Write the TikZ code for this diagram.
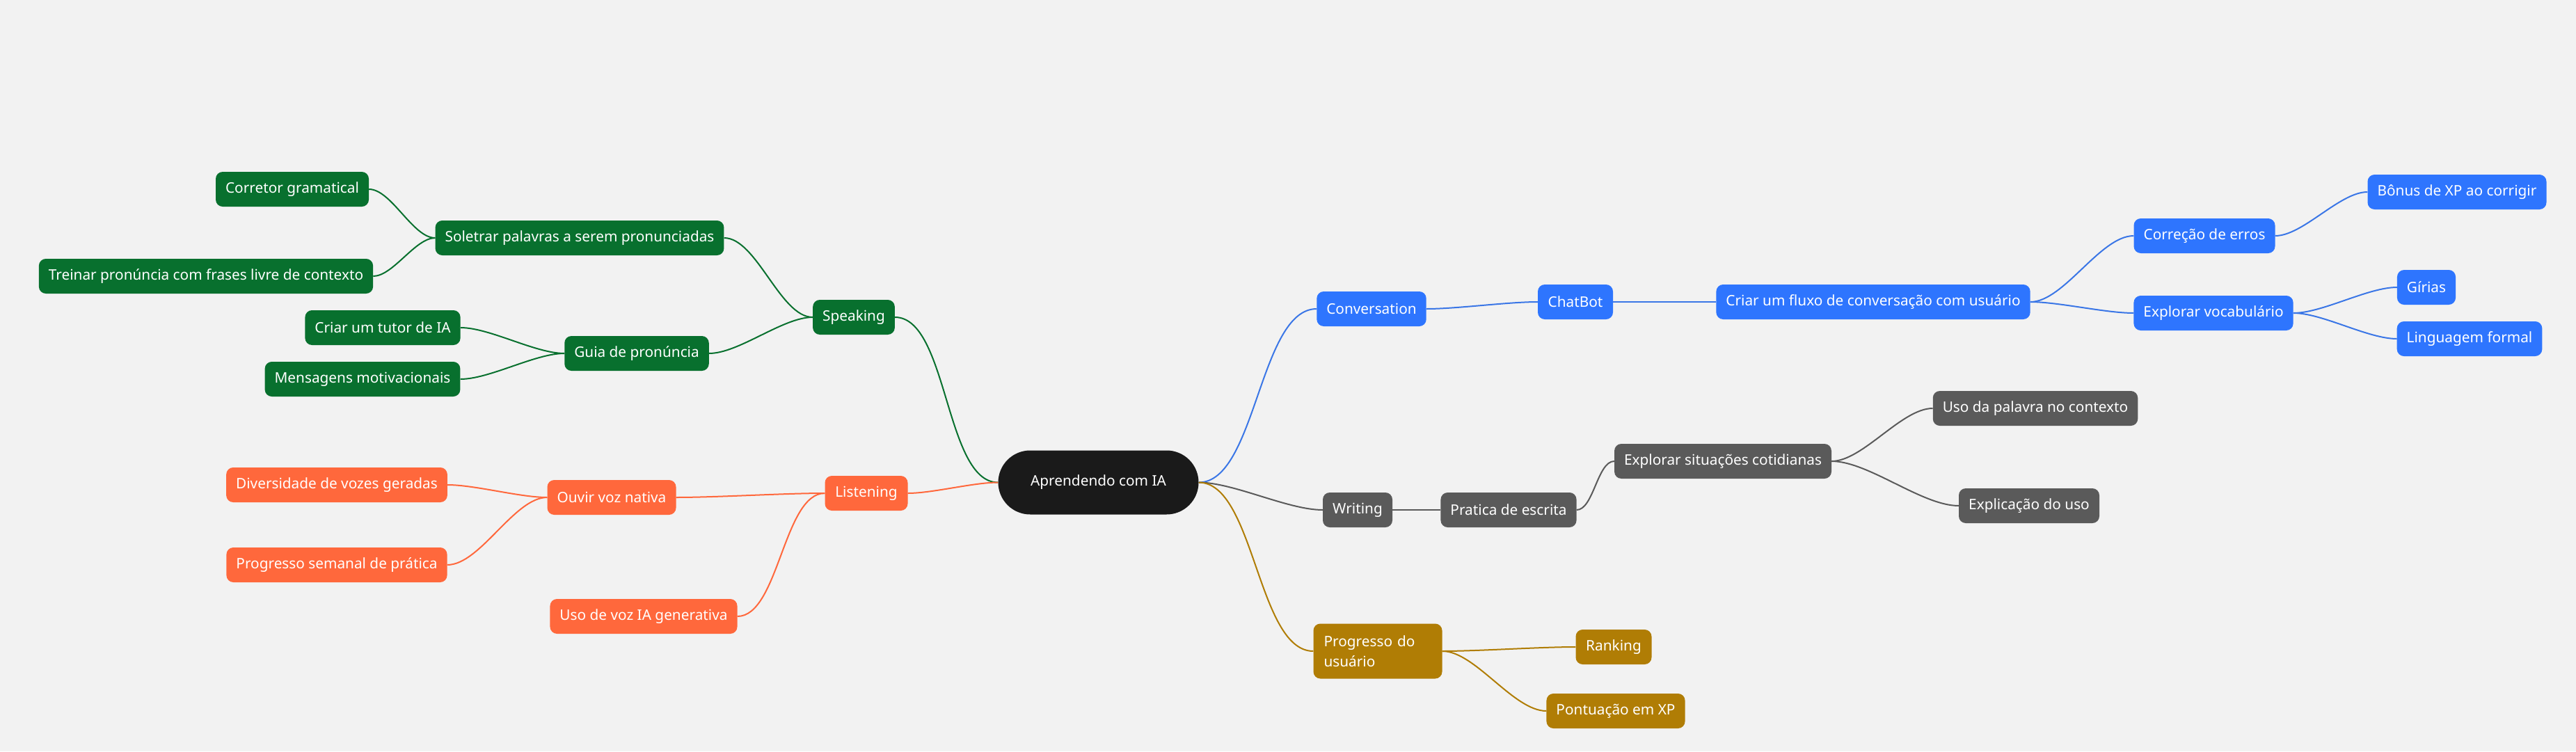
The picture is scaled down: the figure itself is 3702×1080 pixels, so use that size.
\documentclass[tikz,border=0pt]{standalone}
\usepackage{fontspec}
\setmainfont{Noto Sans}
\definecolor{bg}{HTML}{F2F2F2}
\definecolor{rootc}{HTML}{1A1A1A}
\definecolor{bluec}{HTML}{2E75FE}
\definecolor{bluel}{HTML}{3A76E6}
\definecolor{greenc}{HTML}{08702E}
\definecolor{orangec}{HTML}{FF683C}
\definecolor{greyc}{HTML}{5A5A5A}
\definecolor{goldc}{HTML}{B07D05}
\tikzset{
  box/.style={rounded corners=10bp, text=white, minimum height=50bp, inner xsep=14bp, inner ysep=0bp,
    font=\fontsize{20.8bp}{29bp}\selectfont, anchor=center},
  bbox/.style={box, fill=bluec},
  gbox/.style={box, fill=greenc},
  obox/.style={box, fill=orangec},
  ybox/.style={box, fill=greyc},
  dbox/.style={box, fill=goldc},
  conn/.style={line width=2bp},
  rc/.style={out=0, in=180, looseness=0.7},
  lc/.style={out=180, in=0, looseness=0.7},
}
\begin{document}
\begin{tikzpicture}[x=1bp,y=-1bp]
\fill[bg] (0,0) rectangle (3702,1080);
\useasboundingbox (0,0) rectangle (3702,1080);

% root
\node[box, fill=rootc, rounded corners=46bp, minimum width=288bp, minimum height=92bp] (root) at (1578.5,693.5) {Aprendendo com IA};

% blue branch
\node[bbox, minimum width=157bp] (conv) at (1971,444) {Conversation};
\node[bbox, minimum width=108bp] (chat) at (2264,434) {ChatBot};
\node[bbox, minimum width=450bp] (fluxo) at (2692,434) {Criar um fluxo de conversação com usuário};
\node[bbox, minimum width=203bp] (corr) at (3168,339) {Correção de erros};
\node[bbox, minimum width=257bp] (bonus) at (3531,276) {Bônus de XP ao corrigir};
\node[bbox, minimum width=228bp] (vocab) at (3181,450) {Explorar vocabulário};
\node[bbox, minimum width=84bp] (girias) at (3487,413) {Gírias};
\node[bbox, minimum width=208bp] (formal) at (3549,487) {Linguagem formal};

% grey branch
\node[ybox, minimum width=100bp] (writing) at (1951,733) {Writing};
\node[ybox, minimum width=195bp] (pratica) at (2168,733) {Pratica de escrita};
\node[ybox, minimum width=311bp] (explsit) at (2476,663) {Explorar situações cotidianas};
\node[ybox, minimum width=294bp] (usopal) at (2925,587) {Uso da palavra no contexto};
\node[ybox, minimum width=202bp] (explic) at (2916,727) {Explicação do uso};

% gold branch
\node[dbox, minimum width=185bp, minimum height=79bp, text width=155bp, align=left] (prog) at (1980,936) {Progresso do usuário};
\node[dbox, minimum width=109bp] (rank) at (2319,930) {Ranking};
\node[dbox, minimum width=199bp] (pont) at (2322,1022) {Pontuação em XP};

% green branch
\node[gbox, minimum width=117bp] (speaking) at (1227,456) {Speaking};
\node[gbox, minimum width=413bp] (soletrar) at (833,342) {Soletrar palavras a serem pronunciadas};
\node[gbox, minimum width=220bp] (corretor) at (420,272) {Corretor gramatical};
\node[gbox, minimum width=479bp] (treinar) at (296,397) {Treinar pronúncia com frases livre de contexto};
\node[gbox, minimum width=207bp] (guia) at (915,508) {Guia de pronúncia};
\node[gbox, minimum width=222bp] (tutor) at (550,471) {Criar um tutor de IA};
\node[gbox, minimum width=280bp] (mensagens) at (521,545) {Mensagens motivacionais};

% orange branch
\node[obox, minimum width=119bp] (listening) at (1245,709) {Listening};
\node[obox, minimum width=185bp] (ouvir) at (879,715) {Ouvir voz nativa};
\node[obox, minimum width=317bp] (divers) at (484,697) {Diversidade de vozes geradas};
\node[obox, minimum width=317bp] (progsem) at (484,812) {Progresso semanal de prática};
\node[obox, minimum width=268bp] (usovoz) at (925,886) {Uso de voz IA generativa};

% connectors
\draw[conn, bluel] (root.east) to[rc] (conv.west);
\draw[conn, bluel] (conv.east) to[rc] (chat.west);
\draw[conn, bluel] (chat.east) to[rc] (fluxo.west);
\draw[conn, bluel] (fluxo.east) to[rc] (corr.west);
\draw[conn, bluel] (fluxo.east) to[rc] (vocab.west);
\draw[conn, bluel] (corr.east) to[rc] (bonus.west);
\draw[conn, bluel] (vocab.east) to[rc] (girias.west);
\draw[conn, bluel] (vocab.east) to[rc] (formal.west);

\draw[conn, greyc] (root.east) to[rc] (writing.west);
\draw[conn, greyc] (writing.east) to[rc] (pratica.west);
\draw[conn, greyc] (pratica.east) to[rc] (explsit.west);
\draw[conn, greyc] (explsit.east) to[rc] (usopal.west);
\draw[conn, greyc] (explsit.east) to[rc] (explic.west);

\draw[conn, goldc] (root.east) to[rc] (prog.west);
\draw[conn, goldc] (prog.east) to[rc] (rank.west);
\draw[conn, goldc] (prog.east) to[rc] (pont.west);

\draw[conn, greenc] (root.west) to[lc] (speaking.east);
\draw[conn, greenc] (speaking.west) to[lc] (soletrar.east);
\draw[conn, greenc] (speaking.west) to[lc] (guia.east);
\draw[conn, greenc] (soletrar.west) to[lc] (corretor.east);
\draw[conn, greenc] (soletrar.west) to[lc] (treinar.east);
\draw[conn, greenc] (guia.west) to[lc] (tutor.east);
\draw[conn, greenc] (guia.west) to[lc] (mensagens.east);

\draw[conn, orangec] (root.west) to[lc] (listening.east);
\draw[conn, orangec] (listening.west) to[lc] (ouvir.east);
\draw[conn, orangec] (listening.west) to[lc] (usovoz.east);
\draw[conn, orangec] (ouvir.west) to[lc] (divers.east);
\draw[conn, orangec] (ouvir.west) to[lc] (progsem.east);
\end{tikzpicture}
\end{document}
